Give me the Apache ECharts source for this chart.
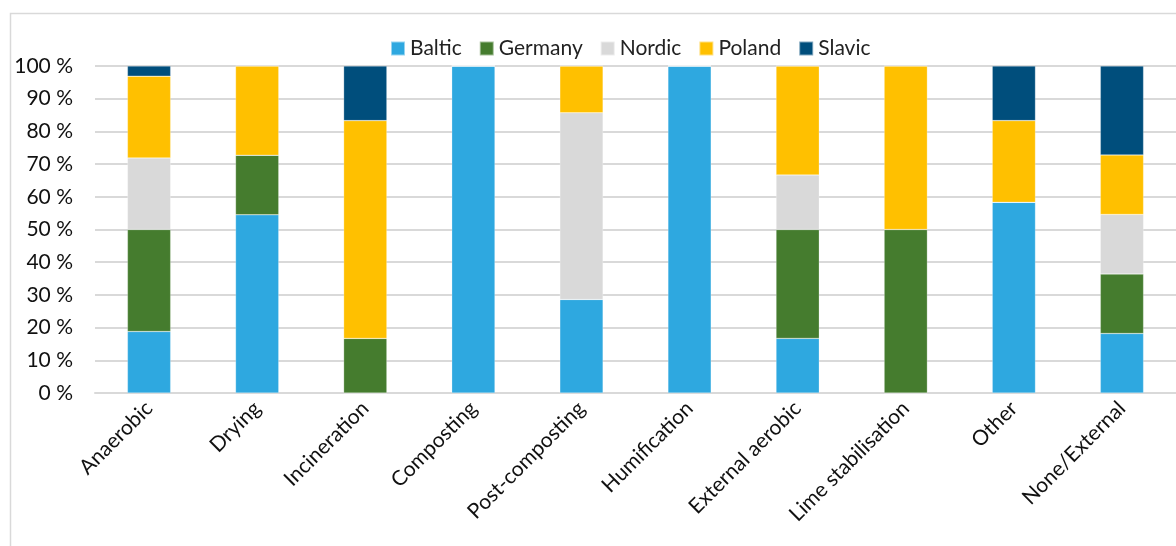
<!DOCTYPE html>
<html><head><meta charset="utf-8">
<script src="https://cdn.jsdelivr.net/npm/echarts@6/dist/echarts.min.js"></script>
<style>html,body{margin:0;padding:0;background:#fff}#c{width:1176px;height:546px}</style>
</head><body><div id="c"></div>
<script>
const categories = ['Anaerobic','Drying','Incineration','Composting','Post-composting','Humification','External aerobic','Lime stabilisation','Other','None/External'];
const baltic  = [18.8, 54.5, 0,    100, 28.6, 100, 16.7, 0,  58.3, 18.2];
const germany = [31.2, 18.2, 16.7, 0,   0,    0,   33.3, 50, 0,    18.2];
const nordic  = [21.9, 0,    0,    0,   57.1, 0,   16.7, 0,  0,    18.2];
const poland  = [25.0, 27.3, 66.6, 0,   14.3, 0,   33.3, 50, 25.0, 18.2];
const slavic  = [3.1,  0,    16.7, 0,   0,    0,   0,    0,  16.7, 27.2];
const yTicks = [0,10,20,30,40,50,60,70,80,90,100];

const font = 'Lato, "Open Sans", sans-serif';
const names = ['Baltic','Germany','Nordic','Poland','Slavic'];
const colors = ['#2ea8e0','#457c2e','#d9d9d9','#ffc000','#004e7c'];
const datas = [baltic, germany, nordic, poland, slavic];

const chart = echarts.init(document.getElementById('c'));
chart.setOption({
  animation: false,
  color: colors,
  graphic: [{type:'rect', shape:{x:10.5,y:13.5,width:1200,height:600}, style:{fill:'none',stroke:'#d9d9d9',lineWidth:1.5}, silent:true}],
  legend: {
    top: 33, left: 385, itemWidth: 14, itemHeight: 14, itemGap: 17,
    icon: 'rect',
    textStyle: {fontFamily: font, fontSize: 21, color: '#222'},
    data: names
  },
  grid: {left: 95, right: -2, top: 66, bottom: 153, containLabel: false},
  xAxis: {
    type: 'category', data: categories,
    axisLine: {lineStyle: {color: '#d9d9d9', width: 2}},
    axisTick: {show: false},
    axisLabel: {rotate: 45, interval: 0, fontFamily: font, fontSize: 21, color: '#111', margin: 12}
  },
  yAxis: {
    type: 'value', min: 0, max: 100, interval: 10,
    axisLine: {show: false}, axisTick: {show: false},
    splitLine: {lineStyle: {color: '#d9d9d9', width: 2}},
    axisLabel: {formatter: v => yTicks.includes(v) ? v + ' %' : '', fontFamily: font, fontSize: 21, color: '#111', margin: 22}
  },
  series: names.map((n, i) => ({
    name: n, type: 'bar', stack: 'all', data: datas[i], barWidth: '40%',
    itemStyle: {borderColor: 'rgba(255,255,255,0.5)', borderWidth: 0.5}
  }))
});
</script></body></html>
